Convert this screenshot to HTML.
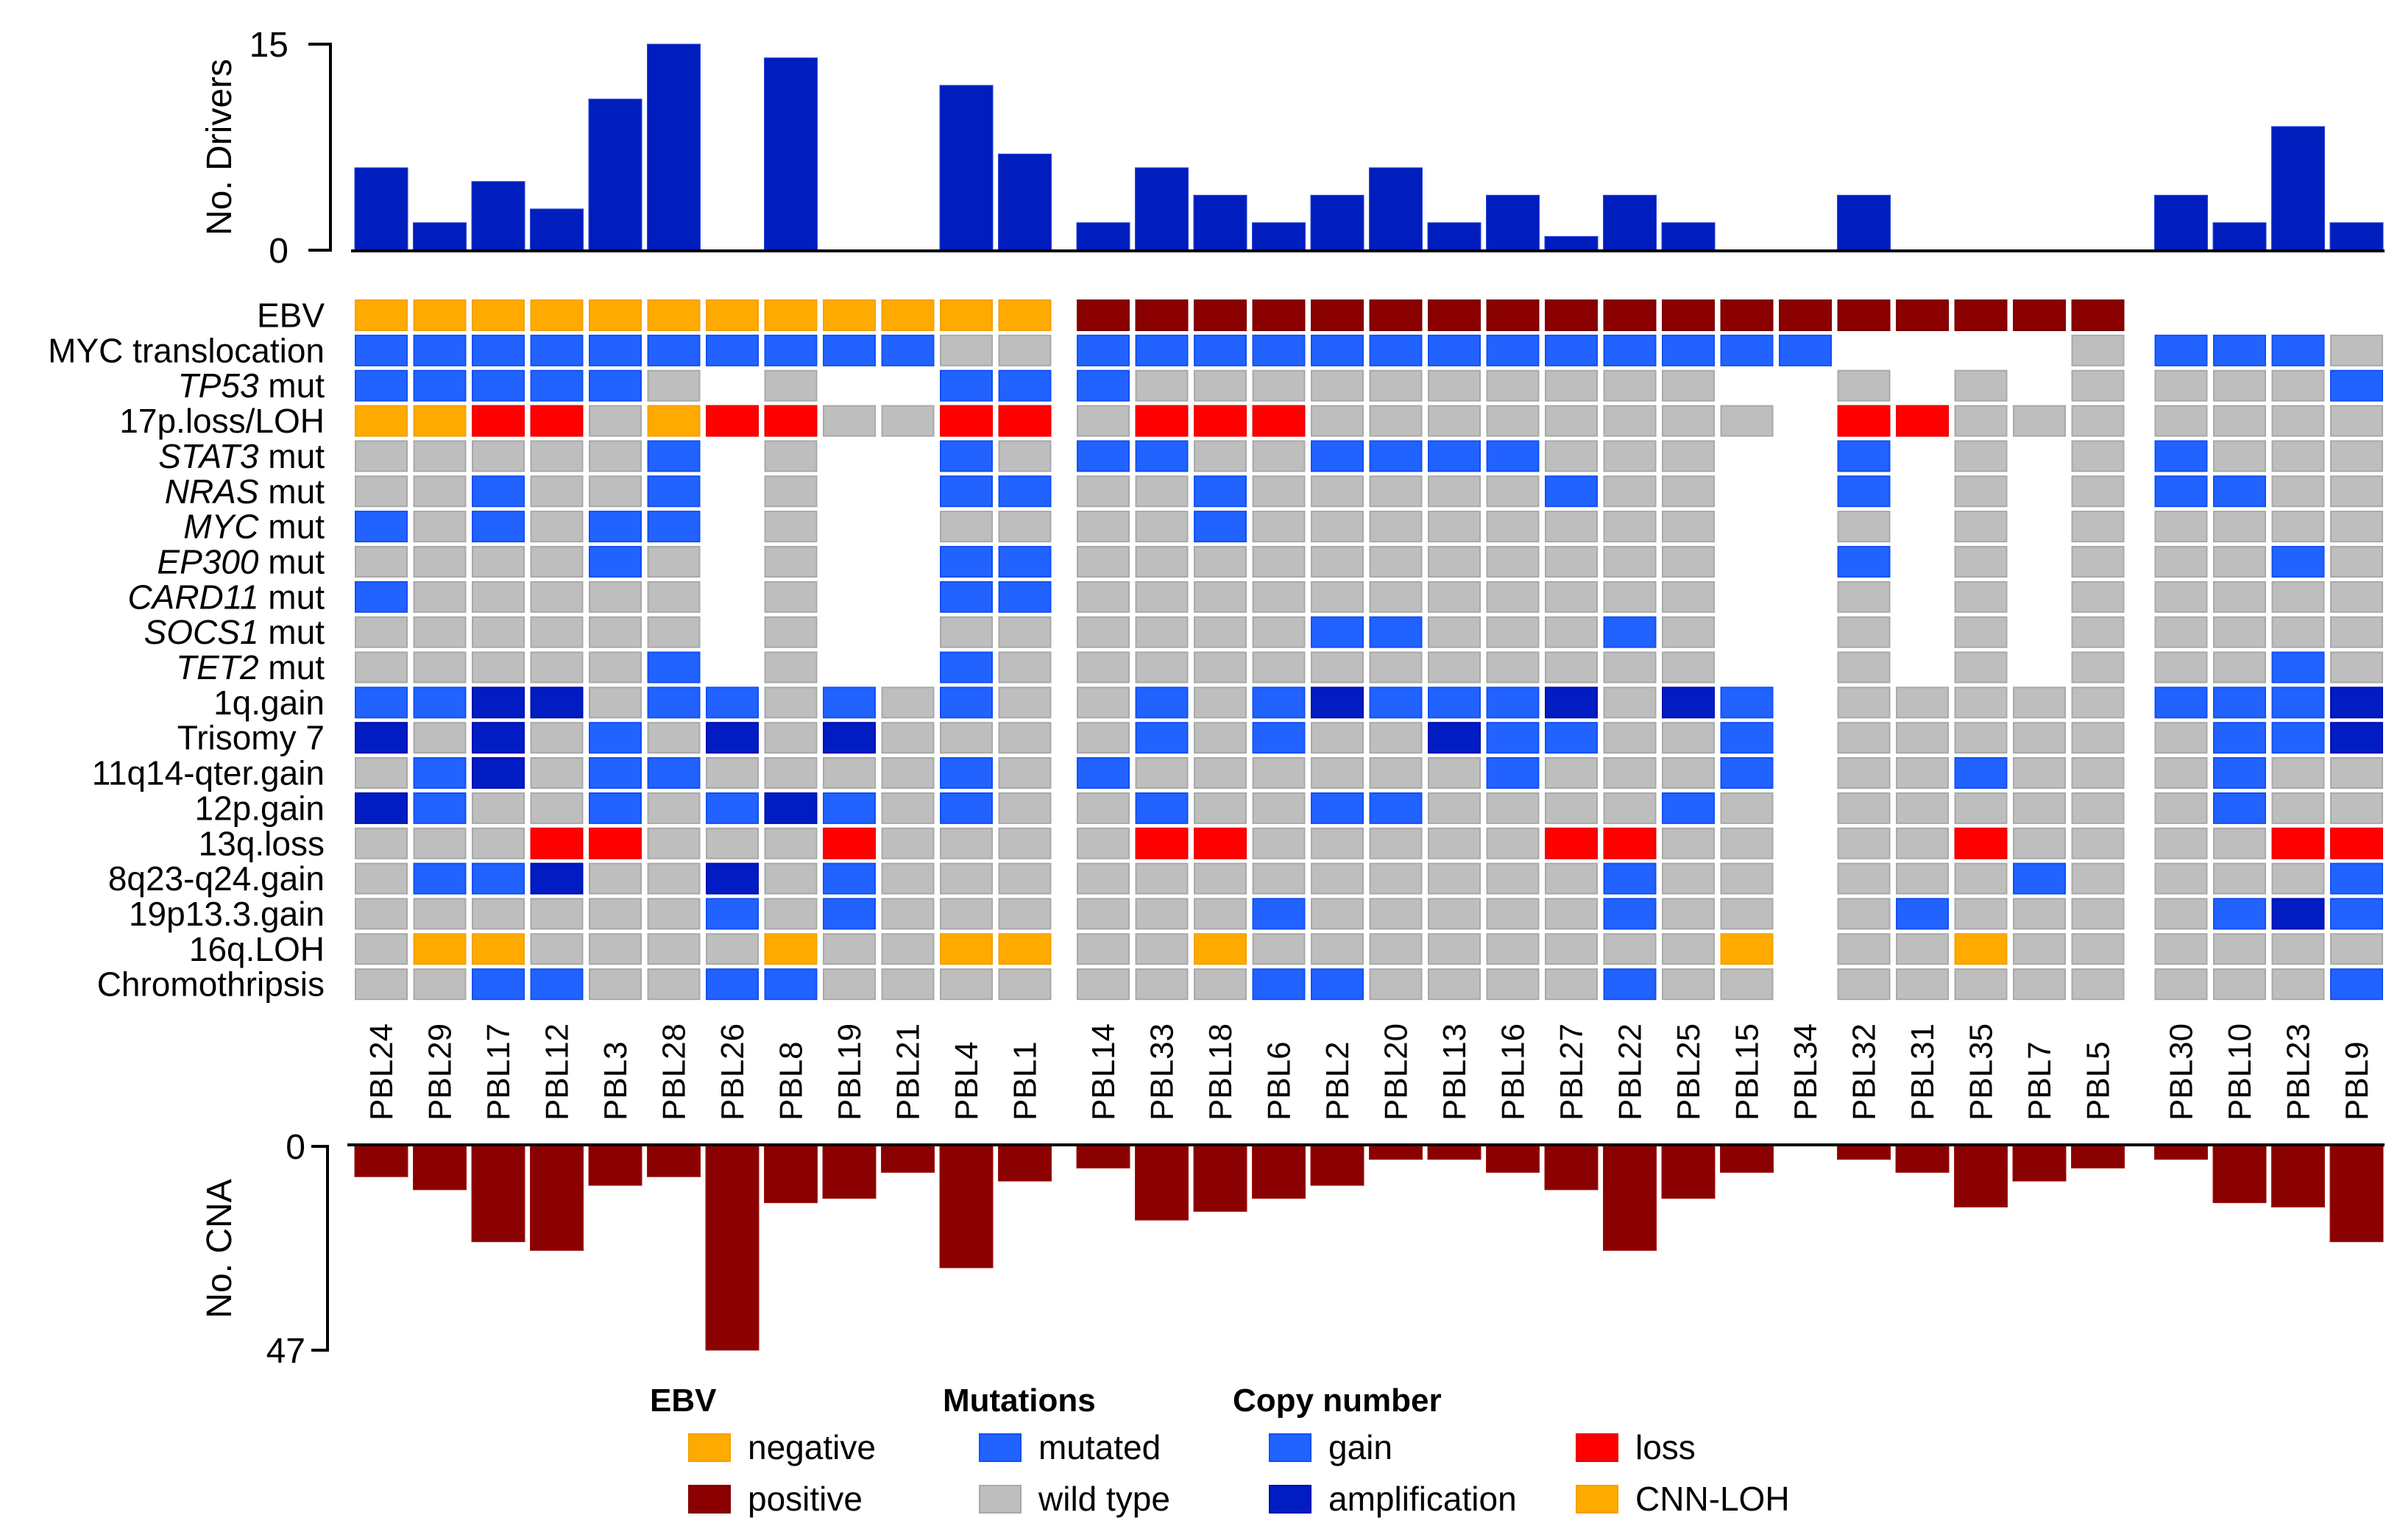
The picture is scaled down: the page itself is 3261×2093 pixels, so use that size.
<!DOCTYPE html>
<html><head><meta charset="utf-8"><title>Oncoprint</title>
<style>
html,body{margin:0;padding:0;background:#fff;}
svg{display:block;font-family:"Liberation Sans",sans-serif;}
</style></head>
<body>
<svg id="chart" width="3261" height="2093" viewBox="0 0 3261 2093" xmlns="http://www.w3.org/2000/svg"></svg>
<script>
const samples = ["PBL24","PBL29","PBL17","PBL12","PBL3","PBL28","PBL26","PBL8","PBL19","PBL21","PBL4","PBL1",
"PBL14","PBL33","PBL18","PBL6","PBL2","PBL20","PBL13","PBL16","PBL27","PBL22","PBL25","PBL15","PBL34","PBL32","PBL31","PBL35","PBL7","PBL5",
"PBL30","PBL10","PBL23","PBL9"];
const sampleGroup = [0,0,0,0,0,0,0,0,0,0,0,0, 1,1,1,1,1,1,1,1,1,1,1,1,1,1,1,1,1,1, 2,2,2,2];
const drivers = [6,2,5,3,11,15,0,14,0,0,12,7, 2,6,4,2,4,6,2,4,1,4,2,0,0,4,0,0,0,0, 4,2,9,2];
const cna = [7,10,22,24,9,7,47,13,12,6,28,8, 5,17,15,12,9,3,3,6,10,24,12,6,0,3,6,14,8,5, 3,13,14,22];
const rowLabels = [["EBV",""],["MYC translocation",""],["TP53"," mut"],["17p.loss/LOH",""],["STAT3"," mut"],["NRAS"," mut"],["MYC"," mut"],["EP300"," mut"],["CARD11"," mut"],["SOCS1"," mut"],["TET2"," mut"],["1q.gain",""],["Trisomy 7",""],["11q14-qter.gain",""],["12p.gain",""],["13q.loss",""],["8q23-q24.gain",""],["19p13.3.gain",""],["16q.LOH",""],["Chromothripsis",""]];
const italicRows = [false,false,true,false,true,true,true,true,true,true,true,false,false,false,false,false,false,false,false,false];
// O=EBV neg/CNN-LOH, D=EBV pos, B=mutated/gain, N=amplification, R=loss, G=wild type, W=no data
const cellRows = [
"OOOOOOOOOOOO"+"DDDDDDDDDDDDDDDDDD"+"WWWW",
"BBBBBBBBBBGG"+"BBBBBBBBBBBBBWWWWG"+"BBBG",
"BBBBBGWGWWBB"+"BGGGGGGGGGGWWGWGWG"+"GGGB",
"OORRGORRGGRR"+"GRRRGGGGGGGGWRRGGG"+"GGGG",
"GGGGGBWGWWBG"+"BBGGBBBBGGGWWBWGWG"+"BGGG",
"GGBGGBWGWWBB"+"GGBGGGGGBGGWWBWGWG"+"BBGG",
"BGBGBBWGWWGG"+"GGBGGGGGGGGWWGWGWG"+"GGGG",
"GGGGBGWGWWBB"+"GGGGGGGGGGGWWBWGWG"+"GGBG",
"BGGGGGWGWWBB"+"GGGGGGGGGGGWWGWGWG"+"GGGG",
"GGGGGGWGWWGG"+"GGGGBBGGGBGWWGWGWG"+"GGGG",
"GGGGGBWGWWBG"+"GGGGGGGGGGGWWGWGWG"+"GGBG",
"BBNNGBBGBGBG"+"GBGBNBBBNGNBWGGGGG"+"BBBN",
"NGNGBGNGNGGG"+"GBGBGGNBBGGBWGGGGG"+"GBBN",
"GBNGBBGGGGBG"+"BGGGGGGBGGGBWGGBGG"+"GBGG",
"NBGGBGBNBGBG"+"GBGGBBGGGGBGWGGGGG"+"GBGG",
"GGGRRGGGRGGG"+"GRRGGGGGRRGGWGGRGG"+"GGRR",
"GBBNGGNGBGGG"+"GGGGGGGGGBGGWGGGBG"+"GGGB",
"GGGGGGBGBGGG"+"GGGBGGGGGBGGWGBGGG"+"GBNB",
"GOOGGGGOGGOO"+"GGOGGGGGGGGOWGGOGG"+"GGGG",
"GGBBGGBBGGGG"+"GGGBBGGGGBGGWGGGGG"+"GGGB"
];
const driverTicks = [0,15];
const cnaTicks = [0,47];
const legendGroups = ["EBV","Mutations","Copy number"];

const fill = {O:"#FFAA00",D:"#8B0000",B:"#2262FF",N:"#001CC2",R:"#FF0000",G:"#BEBEBE"};
const stroke = {O:"#F5A000",D:"#7E0000",B:"#1050F5",N:"#0010B0",R:"#EE0000",G:"#A8A8A8"};
const NS="http://www.w3.org/2000/svg";
const svg=document.getElementById("chart");
function el(tag,attrs,parent){const e=document.createElementNS(NS,tag);for(const k in attrs)e.setAttribute(k,attrs[k]);(parent||svg).appendChild(e);return e;}

const X0=482, PITCH=79.5, CW=72, groupOff=[0,27,60.5];
function colX(i){return X0+i*PITCH+groupOff[sampleGroup[i]];}
const Y0=407, RPITCH=47.85, CH=43;
function rowY(r){return Y0+r*RPITCH;}
const dTop=60, dBase=340, dMax=15;
function dY(v){return dBase-(v/dMax)*(dBase-dTop);}
const cTop=1558, cBot=1835, cMax=47;
function cY(v){return cTop+(v/cMax)*(cBot-cTop);}
const xEnd=colX(samples.length-1)+CW+2;

// ---- driver bars
const gD=el("g",{});


drivers.forEach((v,i)=>{ if(v<=0) return;
  const r=el("rect",{x:colX(i),y:dY(v),width:CW,height:dBase-dY(v),fill:"#001EBE",stroke:"#2a44d8","stroke-width":1},gD);
  
  
});
const dAx=el("path",{d:`M419 ${dY(15)} H449 V${dBase} H419`,fill:"none",stroke:"#000","stroke-width":4});


const dBl=el("line",{x1:477,y1:dBase+1,x2:xEnd,y2:dBase+1,stroke:"#000","stroke-width":4});


driverTicks.forEach(t=>{
  const tx=el("text",{x:392,y:dY(t)+17,"text-anchor":"end","font-size":48},svg);
  tx.textContent=t;
  
  
});
const dTitle=el("text",{x:0,y:0,"text-anchor":"middle","font-size":48,transform:"translate(314,200) rotate(-90)"});
dTitle.textContent="No. Drivers";



// ---- grid
const gG=el("g",{});


cellRows.forEach((row,r)=>{
  for(let i=0;i<row.length;i++){const c=row[i]; if(c==="W") continue;
    const rc=el("rect",{x:colX(i)+1,y:rowY(r)+1,width:CW-2,height:CH-2,fill:fill[c],stroke:stroke[c],"stroke-width":2},gG);
    
    
  }
});
rowLabels.forEach((lb,r)=>{
  const t=el("text",{x:441,y:rowY(r)+CH/2+16,"text-anchor":"end","font-size":46});
  if(italicRows[r]){
    const a=el("tspan",{"font-style":"italic"},t); a.textContent=lb[0];
    const b=el("tspan",{},t); b.textContent=lb[1];
  } else t.textContent=lb[0];
  
  
});

// ---- sample labels
samples.forEach((s,i)=>{
  const cx=colX(i)+CW/2+15;
  const t=el("text",{x:cx,y:1523,"text-anchor":"start","font-size":44,transform:`rotate(-90 ${cx} 1523)`});
  t.textContent=s;
  
  
});

// ---- CNA bars
const gC=el("g",{});


cna.forEach((v,i)=>{ if(v<=0) return;
  const r=el("rect",{x:colX(i),y:cTop,width:CW,height:cY(v)-cTop,fill:"#8B0000",stroke:"#a01010","stroke-width":1},gC);
  
  
});
const cAx=el("path",{d:`M423 ${cTop} H445 V${cBot} H423`,fill:"none",stroke:"#000","stroke-width":4});


const cBl=el("line",{x1:472,y1:cTop-2,x2:xEnd,y2:cTop-2,stroke:"#000","stroke-width":4});


cnaTicks.forEach(t=>{
  const tx=el("text",{x:415,y:cY(t)+17,"text-anchor":"end","font-size":48});
  tx.textContent=t;
  
  
});
const cTitle=el("text",{x:0,y:0,"text-anchor":"middle","font-size":48,transform:"translate(314,1697) rotate(-90)"});
cTitle.textContent="No. CNA";



// ---- legend
const legendItems = [
 {x:936,y:1949,c:"O",label:"negative"},{x:936,y:2019,c:"D",label:"positive"},
 {x:1331,y:1949,c:"B",label:"mutated"},{x:1331,y:2019,c:"G",label:"wild type"},
 {x:1725,y:1949,c:"B",label:"gain"},{x:1725,y:2019,c:"N",label:"amplification"},
 {x:2142,y:1949,c:"R",label:"loss"},{x:2142,y:2019,c:"O",label:"CNN-LOH"}];
const headerX=[883,1281,1675];
legendGroups.forEach((h,i)=>{
  const t=el("text",{x:headerX[i],y:1918,"font-size":44,"font-weight":"bold"});
  t.textContent=h;
  
  
});
legendItems.forEach(it=>{
  const r=el("rect",{x:it.x,y:it.y,width:56,height:37,fill:fill[it.c],stroke:stroke[it.c],"stroke-width":2});
  
  
  const t=el("text",{x:it.x+80,y:it.y+34,"font-size":46});
  t.textContent=it.label;
  
  
});
</script>
</body></html>
